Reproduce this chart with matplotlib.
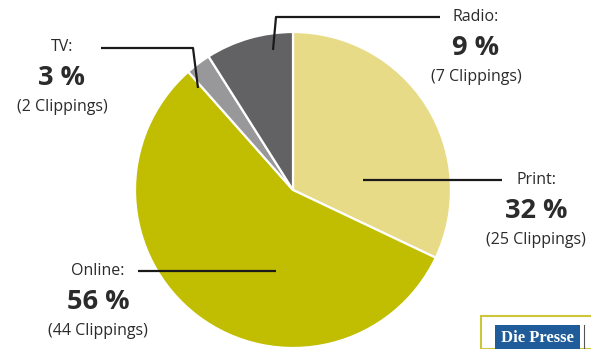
import numpy as np, matplotlib
matplotlib.use("Agg"); import matplotlib.pyplot as plt
from matplotlib.patches import Rectangle

plt.rcParams['font.family'] = ['Open Sans', 'DejaVu Sans']

# --- data: media share of clippings ---
media = ["Print", "Online", "TV", "Radio"]
clippings = [25, 44, 2, 7]
colors = ["#E8DB87", "#C1BD00", "#98989A", "#626264"]
pct = [round(100*c/sum(clippings)) for c in clippings]

W, H = 591, 349
fig = plt.figure(figsize=(W/100, H/100), dpi=100)
ax = fig.add_axes([0, 0, 1, 1])

ax.pie(clippings, colors=colors, startangle=90, counterclock=False,
       center=(293, H-190), radius=158,
       wedgeprops=dict(edgecolor="white", linewidth=1.6))
ax.set_xlim(0, W); ax.set_ylim(0, H); ax.set_aspect("equal"); ax.axis("off")

def Y(y): return H - y
txt = "#2b2b2b"
# label blocks: (x centre, y of name line), leader line in pixel coords
blocks = {
    "TV":     (62, 47,  [(101, 48), (193, 48), (198, 88)]),
    "Radio":  (476, 17, [(440, 17), (276, 17), (273, 50)]),
    "Print":  (536, 180, [(502, 180), (363, 180)]),
    "Online": (98, 271, [(138, 271), (276, 271)]),
}
for m, c, p in zip(media, clippings, pct):
    x, y, line = blocks[m]
    ax.text(x, Y(y), m + ":", ha="center", va="center", fontsize=11.5, color=txt)
    ax.text(x, Y(y+31), f"{p} %", ha="center", va="center", fontsize=19.5,
            fontweight="bold", color=txt)
    ax.text(x, Y(y+60), f"({c} Clippings)", ha="center", va="center",
            fontsize=11.5, color=txt)
    xs, ys = zip(*line)
    ax.plot(xs, [Y(v) for v in ys], color="#1a1a1a", lw=1.6,
            solid_capstyle="butt")

# Die Presse logo, bottom right
ax.add_patch(Rectangle((481, 0), 120, Y(316), facecolor="white",
                       edgecolor="#CCC73A", lw=1.5, clip_on=False))
ax.add_patch(Rectangle((495, 0), 85, Y(325), facecolor="#1F5C99",
                       edgecolor="none"))
ax.text(537, Y(338), "Die Presse", ha="center", va="center", fontsize=12,
        fontweight="bold", color="white", family="Liberation Serif")
ax.plot([584, 584], [0, Y(325)], color="#555555", lw=0.8)

fig.savefig("out.png", dpi=100)
